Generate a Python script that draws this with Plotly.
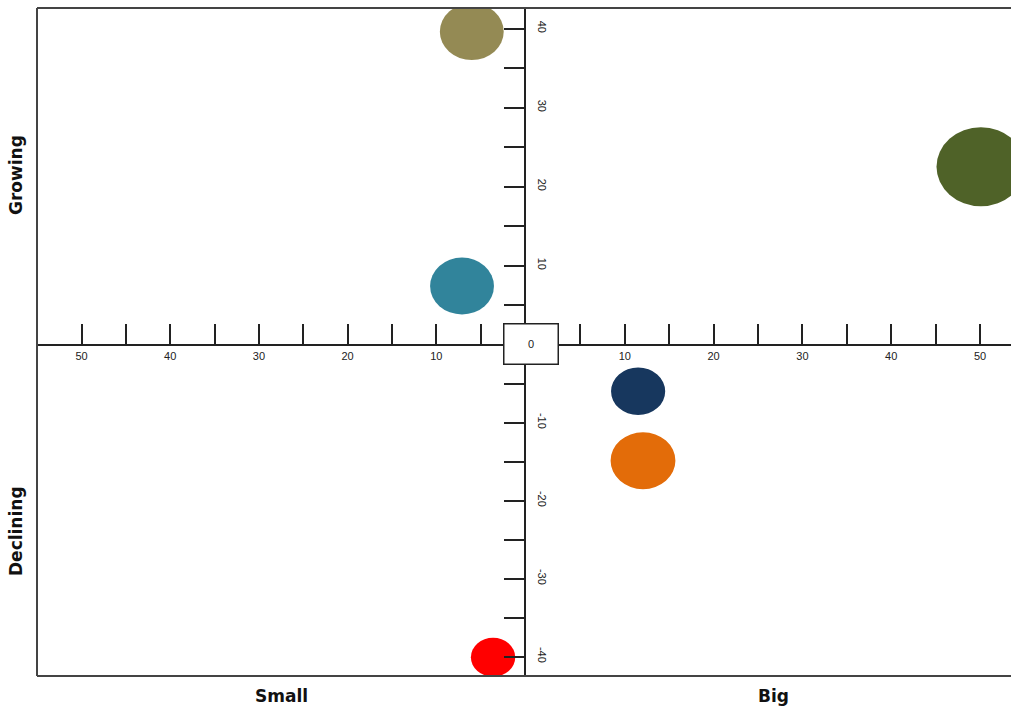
import plotly.graph_objects as go

# Data
names = ["A", "B", "C", "D", "E", "F"]
x_vals = [-6.0, 50.1, -7.1, 11.5, 12.05, -3.6]
y_vals = [39.6, 22.5, 7.4, -6.0, -14.9, -40.1]
radii = [3.6, 5.0, 3.6, 3.05, 3.65, 2.5]
colors = ["#948A54", "#4F6228", "#31849B", "#17375E", "#E36C09", "#FF0000"]

xl_tickvals = list(range(-55, 0, 5))
xl_ticktext = [str(abs(v)) if v % 10 == 0 else "" for v in xl_tickvals]
xr_tickvals = list(range(5, 56, 5))
xr_ticktext = [str(v) if v % 10 == 0 else "" for v in xr_tickvals]
yt_tickvals = list(range(5, 41, 5))
yt_ticktext = [str(v) if v % 10 == 0 else "" for v in yt_tickvals]
yb_tickvals = list(range(-40, 0, 5))
yb_ticktext = [str(v) if v % 10 == 0 else "" for v in yb_tickvals]

W, H = 1011, 709
ml, mr, mt, mb = 37, 0, 8, 33
plot_w = W - ml - mr
plot_h = H - mt - mb

# pixel layout of the two halves
yaxis_px = 525      # y axis line (left half zero)
right_zero_px = 536  # right half zero
xaxis_px = 344.5    # x axis line
sx_l, sx_r = 8.87, 8.88
sy_t, sy_b = 7.9, 7.8


def px_x(p):
    return (p - ml) / plot_w


def px_y(p):
    return 1 - (p - mt) / plot_h


xl_range = [-(yaxis_px - ml) / sx_l, 0]
xr_range = [0, (W - right_zero_px) / sx_r]
yt_range = [0, (xaxis_px - mt) / sy_t]
yb_range = [-(H - mb - xaxis_px) / sy_b, 0]

fig = go.Figure()

shapes = []
for n, xv, yv, r, c in zip(names, x_vals, y_vals, radii, colors):
    xa = "x" if xv < 0 else "x2"
    ya = "y" if yv >= 0 else "y2"
    shapes.append(dict(type="circle", xref=xa, yref=ya,
                       x0=xv - r, x1=xv + r, y0=yv - r, y1=yv + r,
                       fillcolor=c, line=dict(width=0), layer="below"))
    fig.add_trace(go.Scatter(x=[xv], y=[yv], mode="markers", text=[n],
                             xaxis=xa, yaxis=ya,
                             marker=dict(size=40, color="rgba(0,0,0,0)"),
                             hoverinfo="x+y+text", showlegend=False))

# outer frame (left, top, bottom)
frame_col = "#444444"
shapes += [
    dict(type="line", xref="paper", yref="paper", x0=0, x1=0, y0=0, y1=1,
         line=dict(color=frame_col, width=2)),
    dict(type="line", xref="paper", yref="paper", x0=0, x1=1.02, y0=1, y1=1,
         line=dict(color=frame_col, width=2)),
    dict(type="line", xref="paper", yref="paper", x0=0, x1=1.02, y0=0, y1=0,
         line=dict(color=frame_col, width=2)),
]

tickfont = dict(family="Liberation Sans, Arial, sans-serif", size=11, color="#222")

common_x = dict(anchor="free", position=px_y(xaxis_px), side="bottom",
                showgrid=False, zeroline=False, showline=True,
                linecolor="#222", linewidth=1.5,
                ticks="inside", ticklen=20, tickwidth=1.5, tickcolor="#222",
                tickmode="array", ticklabelstandoff=2,
                tickfont=tickfont, fixedrange=True)
common_y = dict(anchor="free", position=px_x(yaxis_px), side="right",
                showgrid=False, zeroline=False, showline=True,
                linecolor="#222", linewidth=1.5,
                ticks="inside", ticklen=20, tickwidth=1.5, tickcolor="#222",
                tickmode="array", ticklabelstandoff=8, tickangle=90,
                tickfont=tickfont, fixedrange=True)

fig.update_layout(
    width=W, height=H,
    margin=dict(l=ml, r=mr, t=mt, b=mb),
    paper_bgcolor="white", plot_bgcolor="white",
    showlegend=False,
    shapes=shapes,
    xaxis=dict(common_x, range=xl_range, domain=[0, px_x(yaxis_px)],
               tickvals=xl_tickvals, ticktext=xl_ticktext),
    xaxis2=dict(common_x, range=xr_range, domain=[px_x(right_zero_px), 1],
                tickvals=xr_tickvals, ticktext=xr_ticktext),
    yaxis=dict(common_y, range=yt_range, domain=[px_y(xaxis_px), 1],
               tickvals=yt_tickvals, ticktext=yt_ticktext),
    yaxis2=dict(common_y, range=yb_range, domain=[0, px_y(xaxis_px)],
                tickvals=yb_tickvals, ticktext=yb_ticktext),
)

title_font = dict(family="DejaVu Sans, Verdana, sans-serif", size=17, color="#111")

annotations = [
    dict(x=px_x(530.5), y=px_y(344), xref="paper", yref="paper", text="0", showarrow=False,
         xanchor="center", yanchor="middle",
         width=51, height=37, bordercolor="#222", borderwidth=1.5,
         bgcolor="white", font=tickfont),
    dict(x=px_x(16), y=px_y(175), xref="paper", yref="paper", xanchor="center", yanchor="middle",
         text="<b>Growing</b>", textangle=-90, showarrow=False, font=title_font),
    dict(x=px_x(16), y=px_y(531), xref="paper", yref="paper", xanchor="center", yanchor="middle",
         text="<b>Declining</b>", textangle=-90, showarrow=False, font=title_font),
    dict(x=px_x(281), y=px_y(696), xref="paper", yref="paper", xanchor="center", yanchor="middle",
         text="<b>Small</b>", showarrow=False, font=title_font),
    dict(x=px_x(773), y=px_y(696), xref="paper", yref="paper", xanchor="center", yanchor="middle",
         text="<b>Big</b>", showarrow=False, font=title_font),
]
fig.update_layout(annotations=annotations)

fig.write_html(
    "out.html",
    config={"displayModeBar": False},
    post_script="document.body.style.margin='0';document.body.style.overflow='hidden';",
)
